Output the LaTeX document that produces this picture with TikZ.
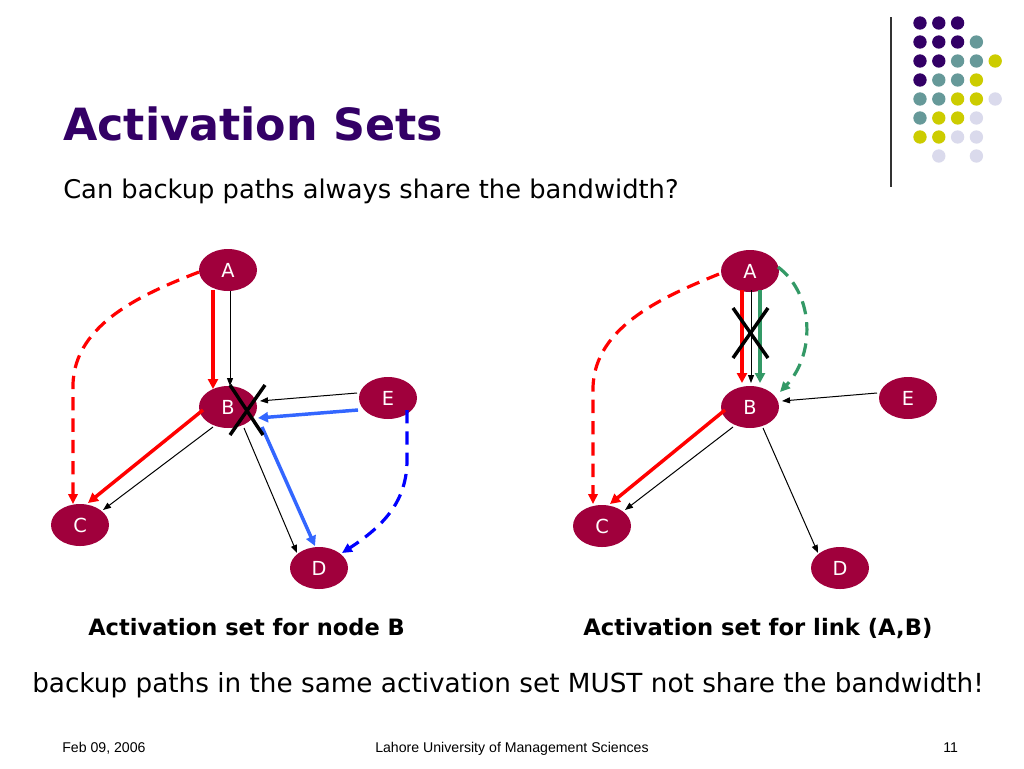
\documentclass[tikz,border=0pt]{standalone}
\usepackage{fontspec}
\setmainfont{DejaVu Sans}
\newfontfamily\footfont{Liberation Sans}
\usetikzlibrary{shapes.geometric,arrows.meta,calc}
\definecolor{nodecol}{RGB}{160,0,60}
\definecolor{titlecol}{RGB}{51,0,102}
\definecolor{dotP}{RGB}{51,0,102}
\definecolor{dotT}{RGB}{102,153,153}
\definecolor{dotY}{RGB}{204,204,0}
\definecolor{dotL}{RGB}{218,218,236}
\definecolor{lblue}{RGB}{51,102,255}
\definecolor{dblue}{RGB}{0,0,255}
\definecolor{sgreen}{RGB}{51,153,102}
\begin{document}
\begin{tikzpicture}[x=0.75pt,y=-0.75pt,
  vert/.style={ellipse,fill=nodecol,minimum width=43.5pt,minimum height=31.5pt,inner sep=0pt,text=white,font=\fontsize{14.5}{16}\selectfont},
  txt/.style={anchor=base west,inner sep=0pt},
  blk/.style={black,line width=0.75pt,-{Triangle[length=6pt,width=4.5pt]}},
  thick arrow/.style={line width=2.6pt,-{Triangle[length=7.5pt,width=7.5pt]}},
  redthick/.style={red,thick arrow},
  bluethick/.style={lblue,thick arrow},
  greenthick/.style={sgreen,line width=2.3pt,-{Triangle[length=7.5pt,width=7.5pt]}},
  dashline/.style={line width=2.4pt,dash pattern=on 10pt off 6pt,-{Triangle[length=7.5pt,width=7pt]}},
  reddash/.style={red,dashline},
  bluedash/.style={dblue,dashline},
  greendash/.style={sgreen,dashline},
  cross/.style={black,line width=2.6pt}]
\path[use as bounding box,fill=white] (0,0) rectangle (1024,768);

% decoration top right
\draw[black!80,line width=1.1pt] (891,17) -- (891,187);
\foreach \c/\r/\col in {1/1/dotP,2/1/dotP,3/1/dotP,
  1/2/dotP,2/2/dotP,3/2/dotP,4/2/dotT,
  1/3/dotP,2/3/dotP,3/3/dotT,4/3/dotT,5/3/dotY,
  1/4/dotP,2/4/dotT,3/4/dotT,4/4/dotY,
  1/5/dotT,2/5/dotT,3/5/dotY,4/5/dotY,5/5/dotL,
  1/6/dotT,2/6/dotY,3/6/dotY,4/6/dotL,
  1/7/dotY,2/7/dotY,3/7/dotL,4/7/dotL,
  2/8/dotL,4/8/dotL}
  \fill[\col] ({920+18.8*(\c-1)},{23+19*(\r-1)}) circle[radius=5pt];

% texts
\node[txt,text=titlecol,font=\bfseries\fontsize{33.3}{40}\selectfont] (title) at (63,140) {Activation Sets};
\node[txt,font=\fontsize{19.3}{23}\selectfont] (sub) at (63,198) {Can backup paths always share the bandwidth?};
\node[txt,font=\bfseries\fontsize{16.9}{20}\selectfont] (cap1) at (88,635) {Activation set for node B};
\node[txt,font=\bfseries\fontsize{17}{20}\selectfont] (cap2) at (583,635) {Activation set for link (A,B)};
\node[txt,font=\fontsize{19.7}{23}\selectfont] (concl) at (32,692) {backup paths in the same activation set MUST not share the bandwidth!};
\node[txt,font=\footfont\fontsize{10.6}{12}\selectfont] (date) at (62,752) {Feb 09, 2006};
\node[txt,font=\footfont\fontsize{10.6}{12}\selectfont] (univ) at (375,752) {Lahore University of Management Sciences};
\node[txt,font=\footfont\fontsize{10.6}{12}\selectfont] (page) at (943,752) {11};

% ---------- left diagram ----------
\node[vert] (lA) at (228,270) {A};
\node[vert] (lB) at (228,407) {B};
\node[vert] (lC) at (80,525) {C};
\node[vert] (lD) at (319,568) {D};
\node[vert] (lE) at (388,398) {E};

\draw[blk] ($(lA)+(2,21)$) -- ($(lB)+(2,-21)$);
\draw[redthick] ($(lA)+(-15,20)$) -- ($(lB)+(-15,-18)$);
\draw[reddash] ($(lA)+(-29,2)$) .. controls (148,292) and (74,322) .. (73,385) -- ($(lC)+(-7,-21)$);
\draw[redthick] ($(lB)+(-25,3)$) -- ($(lC)+(8,-22)$);
\draw[blk] ($(lB)+(-15,20)$) -- ($(lC)+(23,-15)$);
\draw[blk] ($(lE)+(-31,-5)$) -- ($(lB)+(32,-6)$);
\draw[bluethick] ($(lE)+(-30,12)$) -- ($(lB)+(30,11)$);
\draw[bluethick] ($(lB)+(34,20)$) -- ($(lD)+(-4,-22)$);
\draw[blk] ($(lB)+(16,21)$) -- ($(lD)+(-22,-15)$);
\draw[bluedash] ($(lE)+(19,12)$) -- (407,460) .. controls (407,500) and (385,525) .. ($(lD)+(23,-15)$);
\draw[cross] ($(lB)+(2,-22)$) -- ($(lB)+(35,28)$);
\draw[cross] ($(lB)+(37,-22)$) -- ($(lB)+(2,28)$);

% ---------- right diagram ----------
\node[vert] (rA) at (750,271) {A};
\node[vert] (rB) at (750,407) {B};
\node[vert] (rC) at (602,526) {C};
\node[vert] (rD) at (840,568) {D};
\node[vert] (rE) at (908,398) {E};

\draw[redthick] ($(rA)+(-8,19)$) -- ($(rB)+(-8,-24)$);
\draw[blk] ($(rA)+(1,19)$) -- ($(rB)+(1,-24)$);
\draw[greenthick] ($(rA)+(10,19)$) -- ($(rB)+(10,-24)$);
\draw[greendash] ($(rA)+(28,-4)$) .. controls (815,295) and (815,355) .. ($(rB)+(30,-15)$);
\draw[reddash] ($(rA)+(-31,3)$) .. controls (668,295) and (594,325) .. (593,388) -- ($(rC)+(-9,-22)$);
\draw[redthick] ($(rB)+(-25,3)$) -- ($(rC)+(8,-22)$);
\draw[blk] ($(rB)+(-17,20)$) -- ($(rC)+(23,-16)$);
\draw[blk] ($(rB)+(13,21)$) -- ($(rD)+(-22,-15)$);
\draw[blk] ($(rE)+(-31,-5)$) -- ($(rB)+(32,-6)$);
\draw[cross] ($(rA)+(-17,37)$) -- ($(rA)+(18,87)$);
\draw[cross] ($(rA)+(18,37)$) -- ($(rA)+(-17,87)$);
\end{tikzpicture}
\end{document}
